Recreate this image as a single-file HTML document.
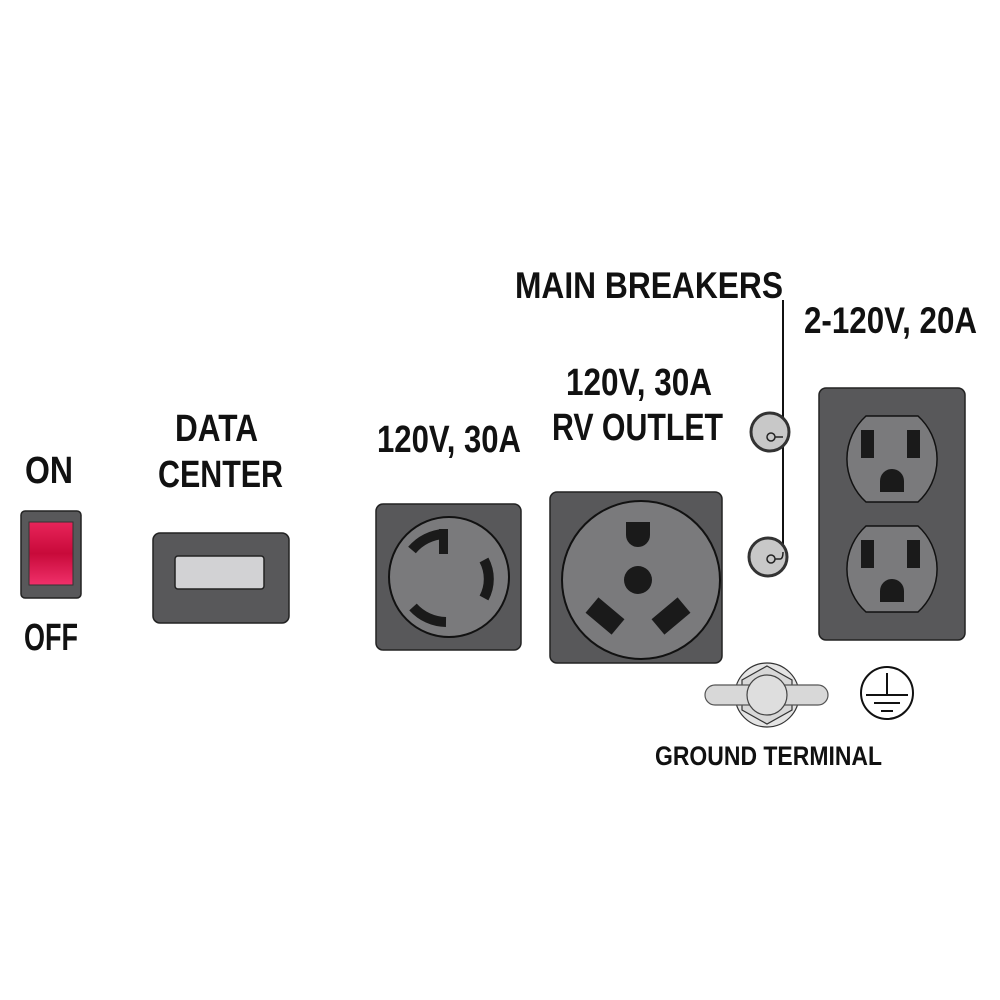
<!DOCTYPE html>
<html><head><meta charset="utf-8"><style>
html,body{margin:0;padding:0;background:#fff;}
svg{display:block}
text{font-family:"Liberation Sans",sans-serif;font-weight:bold;fill:#111;}
</style></head><body>
<svg width="1000" height="1000" viewBox="0 0 1000 1000">
<defs>
<linearGradient id="red" x1="0" y1="0" x2="0" y2="1">
<stop offset="0" stop-color="#e8245a"/><stop offset="0.5" stop-color="#c80a3a"/><stop offset="1" stop-color="#f0306a"/>
</linearGradient>
</defs>
<!-- labels -->
<text x="25" y="483" font-size="38" textLength="48" lengthAdjust="spacingAndGlyphs">ON</text>
<text x="24" y="650" font-size="38" textLength="54" lengthAdjust="spacingAndGlyphs">OFF</text>
<text x="175" y="441" font-size="38" textLength="83" lengthAdjust="spacingAndGlyphs">DATA</text>
<text x="158" y="487" font-size="38" textLength="125" lengthAdjust="spacingAndGlyphs">CENTER</text>
<text x="377" y="452" font-size="38" textLength="144" lengthAdjust="spacingAndGlyphs">120V, 30A</text>
<text x="566" y="395" font-size="38" textLength="146" lengthAdjust="spacingAndGlyphs">120V, 30A</text>
<text x="552" y="440" font-size="38" textLength="171" lengthAdjust="spacingAndGlyphs">RV OUTLET</text>
<text x="515" y="298" font-size="37" textLength="268" lengthAdjust="spacingAndGlyphs">MAIN BREAKERS</text>
<text x="804" y="333" font-size="37" textLength="173" lengthAdjust="spacingAndGlyphs">2-120V, 20A</text>
<text x="655" y="765" font-size="27" textLength="227" lengthAdjust="spacingAndGlyphs">GROUND TERMINAL</text>

<!-- switch -->
<rect x="21" y="511" width="60" height="87" rx="4" fill="#58585a" stroke="#222" stroke-width="1.5"/>
<rect x="29" y="522" width="44" height="63" fill="url(#red)" stroke="#333" stroke-width="1"/>

<!-- data center -->
<rect x="153" y="533" width="136" height="90" rx="7" fill="#58585a" stroke="#222" stroke-width="1.5"/>
<rect x="175" y="556" width="89" height="33" rx="3" fill="#d2d2d4" stroke="#222" stroke-width="1.5"/>

<!-- twist lock -->
<rect x="376" y="504" width="145" height="146" rx="7" fill="#58585a" stroke="#222" stroke-width="1.5"/>
<circle cx="449" cy="577" r="60" fill="#7a7a7c" stroke="#111" stroke-width="2"/>
<g fill="none" stroke="#1a1a1a" stroke-width="10">
<path d="M412 550 A45 45 0 0 1 444 534"/>
<path d="M484 560 A40 40 0 0 1 484 598"/>
<path d="M413 607 A45 45 0 0 0 446 622"/>
</g>
<rect x="439" y="529" width="9" height="25" fill="#1a1a1a"/>

<!-- RV outlet -->
<rect x="550" y="492" width="172" height="171" rx="7" fill="#58585a" stroke="#222" stroke-width="1.5"/>
<circle cx="641" cy="580" r="79" fill="#7a7a7c" stroke="#111" stroke-width="2"/>
<path d="M626 522 H650 V535 A12 12 0 0 1 626 535 Z" fill="#1a1a1a"/>
<circle cx="638" cy="580" r="14" fill="#1a1a1a"/>
<rect x="588" y="606" width="34" height="20" transform="rotate(40 605 616)" fill="#1a1a1a"/>
<rect x="654" y="606" width="34" height="20" transform="rotate(-40 671 616)" fill="#1a1a1a"/>

<!-- breakers -->
<line x1="783" y1="300" x2="783" y2="552" stroke="#111" stroke-width="2"/>
<circle cx="770" cy="432" r="19" fill="#c8c8c8" stroke="#333" stroke-width="3"/>
<circle cx="771" cy="437" r="4" fill="none" stroke="#222" stroke-width="1.5"/>
<line x1="775" y1="437" x2="783" y2="437" stroke="#222" stroke-width="1.5"/>
<circle cx="768" cy="557" r="19" fill="#c8c8c8" stroke="#333" stroke-width="3"/>
<circle cx="771" cy="559" r="4" fill="none" stroke="#222" stroke-width="1.5"/>
<path d="M775 559 H780 Q783 559 783 552" fill="none" stroke="#222" stroke-width="1.5"/>

<!-- duplex -->
<rect x="819" y="388" width="146" height="252" rx="7" fill="#58585a" stroke="#222" stroke-width="1.5"/>
<g id="out">
<path d="M866 416 H918 A58 58 0 0 1 918 502 H866 A58 58 0 0 1 866 416 Z" fill="#7a7a7c" stroke="#111" stroke-width="1.5"/>
<rect x="861" y="430" width="13" height="28" fill="#1a1a1a"/>
<rect x="907" y="430" width="13" height="28" fill="#1a1a1a"/>
<path d="M880 492 V481 A12 12 0 0 1 904 481 V492 Z" fill="#1a1a1a"/>
</g>
<use href="#out" transform="translate(0,110)"/>

<!-- ground terminal -->
<circle cx="767" cy="695" r="32" fill="#e4e4e4" stroke="#333" stroke-width="1.2"/>
<polygon points="767,666 792,680 792,710 767,724 742,710 742,680" fill="#d8d8d8" stroke="#333" stroke-width="1.2"/>
<rect x="705" y="685" width="123" height="20" rx="10" fill="#d8d8d8" stroke="#555" stroke-width="1.2"/>
<circle cx="767" cy="695" r="20" fill="#dedede" stroke="#444" stroke-width="1.2"/>

<!-- ground symbol -->
<circle cx="887" cy="693" r="26" fill="#fff" stroke="#111" stroke-width="2"/>
<line x1="887" y1="673" x2="887" y2="694" stroke="#111" stroke-width="2"/>
<line x1="866" y1="695" x2="908" y2="695" stroke="#111" stroke-width="2"/>
<line x1="874" y1="703" x2="900" y2="703" stroke="#111" stroke-width="2"/>
<line x1="881" y1="711" x2="893" y2="711" stroke="#111" stroke-width="2"/>
</svg>
</body></html>
